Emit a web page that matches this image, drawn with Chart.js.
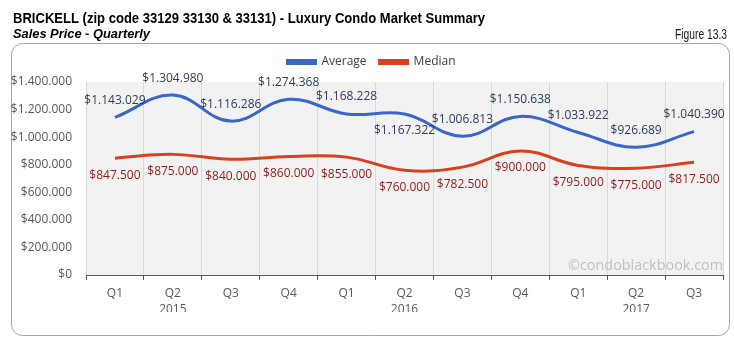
<!DOCTYPE html>
<html>
<head>
<meta charset="utf-8">
<script src="https://cdn.jsdelivr.net/npm/chart.js@4/dist/chart.umd.min.js"></script>
<style>
  html, body { margin: 0; padding: 0; background: #ffffff; }
  #wrap { width: 734px; height: 343px; }
</style>
</head>
<body>
<div id="wrap"><canvas id="chart" width="734" height="343"></canvas></div>
<script>
// Quarterly sales prices, Brickell luxury condos
const quarters = ['Q1', 'Q2', 'Q3', 'Q4', 'Q1', 'Q2', 'Q3', 'Q4', 'Q1', 'Q2', 'Q3'];
const yearLabels = ['', '2015', '', '', '', '2016', '', '', '', '2017', ''];
const averagePrice = [1143029, 1304980, 1116286, 1274368, 1168228, 1167322, 1006813, 1150638, 1033922, 926689, 1040390];
const medianPrice = [847500, 875000, 840000, 860000, 855000, 760000, 782500, 900000, 795000, 775000, 817500];
const yTickValues = [0, 200000, 400000, 600000, 800000, 1000000, 1200000, 1400000];

const titleText = 'BRICKELL (zip code 33129 33130 & 33131) - Luxury Condo Market Summary';
const subtitleText = 'Sales Price - Quarterly';
const figureText = 'Figure 13.3';
const creditText = '\u00A9condoblackbook.com';

const BASE_FONT = '"Open Sans", "Noto Sans", sans-serif';
const NARROW_FONT = '"Liberation Sans Narrow", "Arial Narrow", "Liberation Sans", Arial, sans-serif';

function money(v) {
  return '$' + String(Math.round(v)).replace(/\B(?=(\d{3})+(?!\d))/g, '.');
}

// Draws text squeezed/stretched horizontally to a given width
function drawFitted(ctx, text, x, y, width, align) {
  const w = ctx.measureText(text).width;
  const s = w > 0 ? width / w : 1;
  ctx.save();
  ctx.translate(x, y);
  ctx.scale(s, 1);
  ctx.textAlign = align;
  ctx.fillText(text, 0, 0);
  ctx.restore();
}

function roundedRect(ctx, x, y, w, h, r) {
  ctx.beginPath();
  ctx.moveTo(x + r, y);
  ctx.lineTo(x + w - r, y);
  ctx.arcTo(x + w, y, x + w, y + r, r);
  ctx.lineTo(x + w, y + h - r);
  ctx.arcTo(x + w, y + h, x + w - r, y + h, r);
  ctx.lineTo(x + r, y + h);
  ctx.arcTo(x, y + h, x, y + h - r, r);
  ctx.lineTo(x, y + r);
  ctx.arcTo(x, y, x + r, y, r);
  ctx.closePath();
}

// Frame, plot background, headings and credit line
const decorations = {
  id: 'decorations',
  beforeInit(chart) {
    const legend = chart.legend;
    if (legend) {
      const fit = legend.fit;
      legend.fit = function () {
        fit.call(this);
        this.height = 39;
      };
    }
  },
  afterLayout(chart) {
    // centre the legend over the plot frame rather than the full canvas
    if (chart.legend) {
      chart.legend.left = 20;
    }
  },
  beforeDraw(chart) {
    const { ctx, chartArea: a } = chart;
    ctx.save();
    ctx.fillStyle = '#ffffff';
    ctx.fillRect(0, 0, chart.width, chart.height);
    roundedRect(ctx, 11.5, 43.5, 718, 292, 11);
    ctx.strokeStyle = '#a6a6a6';
    ctx.lineWidth = 1;
    ctx.stroke();
    ctx.fillStyle = '#f2f2f2';
    ctx.fillRect(a.left, a.top, a.right - a.left, a.bottom - a.top);
    ctx.restore();
  },
  afterDraw(chart) {
    const { ctx, chartArea: a } = chart;
    ctx.save();
    ctx.textBaseline = 'alphabetic';
    ctx.fillStyle = '#000000';
    ctx.font = 'bold 14px ' + NARROW_FONT;
    drawFitted(ctx, titleText, 13, 22.5, 472, 'left');
    ctx.font = 'italic bold 13px ' + NARROW_FONT;
    drawFitted(ctx, subtitleText, 13, 38, 137, 'left');
    ctx.fillStyle = '#1a1a1a';
    ctx.font = '14px ' + NARROW_FONT;
    drawFitted(ctx, figureText, 727, 38.5, 52, 'right');
    ctx.font = '15px ' + BASE_FONT;
    ctx.fillStyle = '#bfbfbf';
    ctx.textBaseline = 'middle';
    drawFitted(ctx, creditText, a.right, 266, 155, 'right');
    ctx.restore();
  }
};

// Value labels above/below each point
const valueLabels = {
  id: 'valueLabels',
  afterDatasetsDraw(chart) {
    const { ctx } = chart;
    ctx.save();
    ctx.font = '12px ' + BASE_FONT;
    ctx.textAlign = 'center';
    ctx.textBaseline = 'middle';
    chart.data.datasets.forEach((ds, di) => {
      const meta = chart.getDatasetMeta(di);
      ctx.fillStyle = ds.labelColor;
      meta.data.forEach((pt, i) => {
        const below = ds.labelBelow(i);
        ctx.fillText(money(ds.data[i]), pt.x, pt.y + (below ? 17 : -17));
      });
    });
    ctx.restore();
  }
};

const xLabels = quarters.map((q, i) => yearLabels[i] ? [q, yearLabels[i]] : q);

new Chart(document.getElementById('chart'), {
  type: 'line',
  data: {
    labels: xLabels,
    datasets: [
      {
        label: 'Average',
        data: averagePrice,
        borderColor: '#3a66c8',
        backgroundColor: '#3a66c8',
        borderWidth: 3,
        tension: 0.4,
        pointRadius: 0,
        pointHoverRadius: 0,
        fill: false,
        labelColor: '#2f3c58',
        labelBelow: i => i === 5
      },
      {
        label: 'Median',
        data: medianPrice,
        borderColor: '#d9411e',
        backgroundColor: '#d9411e',
        borderWidth: 3,
        tension: 0.4,
        pointRadius: 0,
        pointHoverRadius: 0,
        fill: false,
        labelColor: '#8b1c1c',
        labelBelow: () => true
      }
    ]
  },
  options: {
    responsive: false,
    animation: false,
    events: [],
    layout: { padding: { left: 0, right: 11, top: 43, bottom: 31 } },
    plugins: {
      title: { display: false },
      tooltip: { enabled: false },
      legend: {
        display: true,
        position: 'top',
        labels: {
          boxWidth: 28,
          boxHeight: 3,
          padding: 13,
          color: '#404040',
          font: { family: BASE_FONT, size: 12 }
        }
      }
    },
    scales: {
      x: {
        offset: true,
        grid: {
          offset: true,
          display: true,
          drawOnChartArea: true,
          color: '#d9d9d9',
          tickColor: '#595959',
          tickLength: 5,
          lineWidth: 1
        },
        border: { display: true, color: '#595959', width: 1 },
        ticks: {
          color: '#595959',
          padding: 6,
          maxRotation: 0,
          autoSkip: false,
          font: { family: BASE_FONT, size: 12, lineHeight: 1.333 }
        },
        afterFit(scale) { scale.height = 37; }
      },
      y: {
        min: 0,
        max: 1400000,
        grid: { display: false, drawTicks: false },
        border: { display: false },
        afterBuildTicks(scale) { scale.ticks = yTickValues.map(v => ({ value: v })); },
        ticks: {
          color: '#595959',
          padding: 14,
          font: { family: BASE_FONT, size: 12 },
          callback: v => money(v)
        },
        afterFit(scale) { scale.width = 86; }
      }
    }
  },
  plugins: [decorations, valueLabels]
});
</script>
</body>
</html>
